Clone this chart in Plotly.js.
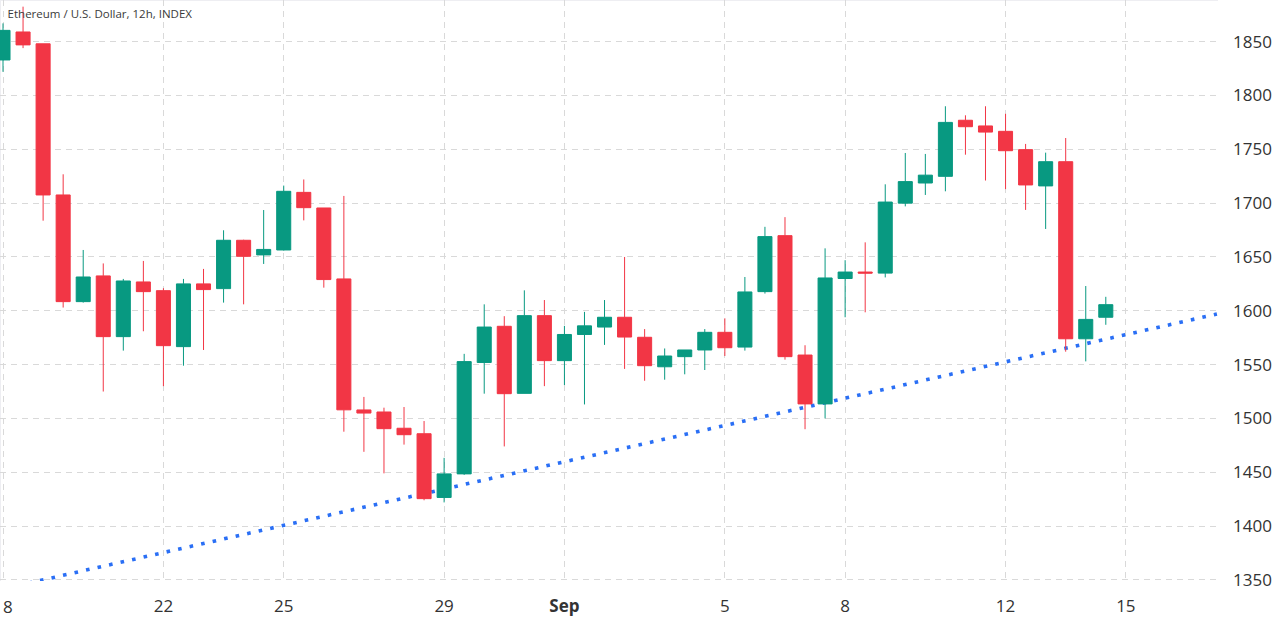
<!DOCTYPE html>
<html>
<head>
<meta charset="utf-8">
<script src="https://cdn.plot.ly/plotly-3.0.1.min.js"></script>
<style>html,body{margin:0;padding:0;background:#fff;overflow:hidden}#chart{width:1278px;height:624px}</style>
</head>
<body>
<div id="chart"></div>
<script>
const times = [
"2022-08-18 00:00","2022-08-18 12:00","2022-08-19 00:00","2022-08-19 12:00","2022-08-20 00:00","2022-08-20 12:00","2022-08-21 00:00","2022-08-21 12:00",
"2022-08-22 00:00","2022-08-22 12:00","2022-08-23 00:00","2022-08-23 12:00","2022-08-24 00:00","2022-08-24 12:00","2022-08-25 00:00","2022-08-25 12:00",
"2022-08-26 00:00","2022-08-26 12:00","2022-08-27 00:00","2022-08-27 12:00","2022-08-28 00:00","2022-08-28 12:00","2022-08-29 00:00","2022-08-29 12:00",
"2022-08-30 00:00","2022-08-30 12:00","2022-08-31 00:00","2022-08-31 12:00","2022-09-01 00:00","2022-09-01 12:00","2022-09-02 00:00","2022-09-02 12:00",
"2022-09-03 00:00","2022-09-03 12:00","2022-09-04 00:00","2022-09-04 12:00","2022-09-05 00:00","2022-09-05 12:00","2022-09-06 00:00","2022-09-06 12:00",
"2022-09-07 00:00","2022-09-07 12:00","2022-09-08 00:00","2022-09-08 12:00","2022-09-09 00:00","2022-09-09 12:00","2022-09-10 00:00","2022-09-10 12:00",
"2022-09-11 00:00","2022-09-11 12:00","2022-09-12 00:00","2022-09-12 12:00","2022-09-13 00:00","2022-09-13 12:00","2022-09-14 00:00","2022-09-14 12:00"];
const open = [1833,1859,1848,1707.6,1608.5,1632.4,1576,1626.8,1618.7,1566.7,1625,1620.6,1665.5,1651.9,1656.5,1710,1695.5,1629.6,1507.9,1506,1490.9,1485.8,1426.6,1448.5,1552,1585.6,1523.3,1595.5,1553.7,1578,1584.9,1594,1575.4,1548,1557.4,1563.6,1580,1566.3,1617.8,1669.8,1558.9,1513.5,1630,1636,1635,1700,1718.7,1724.9,1777,1771.7,1766.7,1749.7,1716,1738.5,1574,1594];
const close = [1860.5,1847,1707.6,1608.5,1631.4,1576,1627.7,1617.8,1567.6,1625,1619.7,1665.5,1650.6,1657,1711,1695.8,1629,1508,1505,1490.5,1484.9,1425.5,1448.5,1552.8,1584.9,1523,1595.5,1553.7,1578,1586,1594,1575.6,1549,1558,1563.6,1580,1565.7,1617.5,1668.9,1557.4,1513.5,1630.5,1636,1635,1701,1720,1726,1775,1771,1766,1748.7,1716.9,1738.5,1574,1592,1605.7];
const high = [1867,1882.5,1848,1726.8,1656.5,1644,1629.6,1646.3,1621,1629.6,1638.9,1674.8,1666,1693.6,1716.3,1722,1695.5,1706.7,1520,1510,1510.6,1497.6,1463.4,1560,1606,1595,1619,1610,1586,1599,1610,1650,1583,1565,1563.6,1583,1593,1631.4,1678,1687,1568,1658,1647,1663.6,1717.5,1746.6,1745.7,1790,1781.6,1790,1783,1755,1746.9,1760.5,1623,1613];
const low = [1822,1844,1683.7,1603,1607.6,1525,1563,1581,1530,1549,1563.6,1607.6,1606,1643.5,1656,1684,1621.5,1487.7,1469,1449,1475.7,1424,1422,1447.6,1523,1474,1523.3,1530,1531,1513,1568.3,1546,1535,1536,1541,1545,1558,1563,1616,1554.6,1490,1500,1594,1598.6,1631,1697,1707.6,1711,1745,1721,1713,1693.7,1676,1562,1553,1587];
const trendTimes = ["2022-08-18 15:15","2022-09-17 06:30"];
const trendValues = [1347,1597];
const xTickVals = ["2022-08-22","2022-08-25","2022-08-29","2022-09-01","2022-09-05","2022-09-08","2022-09-12","2022-09-15"];
const xTickText = ["22","25","29","<b>Sep</b>","5","8","12","15"];
const clippedTickDate = "2022-08-18";
const clippedTickText = "8";
const yTicks = [1350,1400,1450,1500,1550,1600,1650,1700,1750,1800,1850];
const chartTitle = "Ethereum / U.S. Dollar, 12h, INDEX";
const upColor = "#089981", downColor = "#f23645", trendColor = "#2a6ff5";
const gridStyle = {color:"#d9d9d9", dash:"6px,5px"};
const xRange = ["2022-08-17 22:12","2022-09-17 07:09"];
const yRange = [1349,1888.7];

const trendTrace = {
  type:"scatter", mode:"lines", x:trendTimes, y:trendValues, cliponaxis:false,
  line:{color:trendColor,width:3.6,dash:"3.6px,8.2px"}, xaxis:"x", yaxis:"y", showlegend:false
};
const candleTrace = {
  type:"candlestick", x:times, open:open, high:high, low:low, close:close,
  whiskerwidth:0, xaxis:"x2", yaxis:"y2",
  increasing:{line:{color:upColor,width:1},fillcolor:upColor},
  decreasing:{line:{color:downColor,width:1},fillcolor:downColor},
  showlegend:false
};
const layout = {
  width:1278, height:624,
  margin:{l:0,r:60,t:0,b:43,pad:0},
  paper_bgcolor:"#fff", plot_bgcolor:"#fff",
  font:{family:"'Open Sans', sans-serif", color:"#333", size:17},
  showlegend:false, boxgap:0.3, boxgroupgap:0, hovermode:false,
  title:{text:chartTitle, x:8/1278, xanchor:"left", xref:"paper", y:1-14/624, yanchor:"middle", font:{size:11.5,color:"#3a3a3a",family:"'Open Sans', sans-serif"}},
  xaxis:{type:"date", range:xRange, rangeslider:{visible:false},
    tickmode:"array", tickvals:[clippedTickDate].concat(xTickVals), ticktext:[" "].concat(xTickText), tickangle:0,
    showgrid:true, gridcolor:gridStyle.color, griddash:gridStyle.dash, gridwidth:1,
    showline:false, zeroline:false, ticks:"", ticklabelstandoff:13},
  yaxis:{side:"right", range:yRange, tickmode:"array", tickvals:yTicks,
    showgrid:true, gridcolor:gridStyle.color, griddash:gridStyle.dash, gridwidth:1,
    showline:false, zeroline:false, ticks:"", ticklabelstandoff:14},
  xaxis2:{type:"date", range:xRange, overlaying:"x", anchor:"y2", visible:false, rangeslider:{visible:false}},
  yaxis2:{range:yRange, overlaying:"y", anchor:"x2", side:"right", visible:false},
  annotations:[{text:clippedTickText, xref:"x", yref:"paper", x:clippedTickDate, xshift:5, y:0, yshift:-25, yanchor:"middle", showarrow:false, font:{size:17,color:"#333"}}],
  shapes:[
    {type:"line", layer:"below", xref:"paper", yref:"paper", x0:0, x1:1, y0:1, y1:1, line:{color:"#eeeef2",width:2}},
    {type:"line", layer:"below", xref:"paper", yref:"paper", x0:0, x1:0, y0:0, y1:1, line:{color:"#eeeef2",width:2}}
  ]
};
Plotly.newPlot("chart",[trendTrace,candleTrace],layout,{displayModeBar:false,staticPlot:true});
</script>
</body>
</html>
